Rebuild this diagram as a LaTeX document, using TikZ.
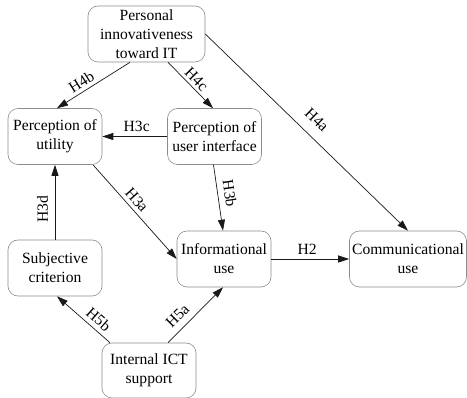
\documentclass[tikz,border=0pt]{standalone}
\usepackage{fontspec}
\setmainfont{Liberation Serif}
\usetikzlibrary{arrows.meta,calc}
\tikzset{
  box/.style={draw=black!45, line width=0.6pt, rounded corners=10pt, align=center,
              minimum width=94pt, minimum height=56pt, inner sep=2pt},
  link/.style={draw=black!90, line width=0.7pt, -{Triangle[length=11pt,width=7pt]}},
  hyp/.style={sloped, above, inner sep=#1},
  hyp/.default=3pt,
}
\begin{document}
\begin{tikzpicture}[x=1pt,y=-1pt, font=\fontsize{15.6}{19}\selectfont]
\useasboundingbox (0,0) rectangle (467,398);

% constructs
\node[box, minimum width=117pt] (pi)  at (146.5,34)  {Personal\\innovativeness\\toward IT};
\node[box] (pu)  at (55,136.5)   {Perception of\\utility};
\node[box] (pui) at (214.5,136.5){Perception of\\user interface};
\node[box] (sc)  at (55,268)     {Subjective\\criterion};
\node[box] (iu)  at (224,259)    {Informational\\use};
\node[box, minimum width=117pt] (cu) at (408,259) {Communicational\\use};
\node[box, minimum height=55pt] (ict) at (149,370.5) {Internal ICT\\support};

% hypothesised paths
\draw[link] ([xshift=-16.5pt]pi.south) -- node[hyp=3.3pt, pos=0.6] {H4b} ([xshift=2pt]pu.north);
\draw[link] ([xshift=21.5pt]pi.south) -- node[hyp=2.8pt, pos=0.5] {H4c} ([xshift=-1.5pt]pui.north);
\draw[link] (pi.east) -- node[hyp=10.5pt, pos=0.495] {H4a} (cu.north);
\draw[link] (pui.west) -- node[hyp=4.7pt, pos=0.47] {H3c} (pu.east);
\draw[link] ([xshift=38pt]pu.south) -- node[hyp=3.9pt, pos=0.44] {H3a} (iu.west);
\draw[link] ([xshift=-1pt]pui.south) -- node[hyp=6.2pt, pos=0.46] {H3b} ([xshift=-1pt]iu.north);
\draw[link] (sc.north) -- node[hyp=6.7pt, pos=0.41] {H3d} (pu.south);
\draw[link] (iu.east) -- node[hyp=3.7pt, pos=0.46] {H2} (cu.west);
\draw[link] ([xshift=-39pt]ict.north) -- node[hyp=4.3pt, pos=0.34] {H5b} ([xshift=2pt]sc.south);
\draw[link] ([xshift=19pt]ict.north) -- node[hyp=6.7pt, pos=0.33] {H5a} ([xshift=-1pt]iu.south);
\end{tikzpicture}
\end{document}
